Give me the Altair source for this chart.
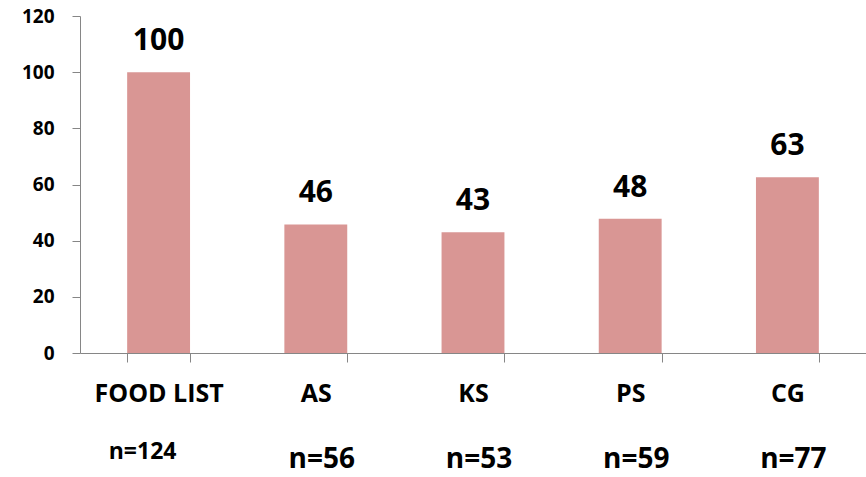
import altair as alt
import pandas as pd

categories = ["FOOD LIST", "AS", "KS", "PS", "CG"]
values = [100, 45.8, 43.0, 47.8, 62.6]
value_labels = ["100", "46", "43", "48", "63"]
n_labels = ["n=124", "n=56", "n=53", "n=59", "n=77"]

df = pd.DataFrame({
    "cat": categories,
    "val": values,
    "lab": value_labels,
    "n": n_labels,
    "idx": list(range(len(categories))),
})

FONT = "Open Sans"
GREY = "#868686"

x_enc = alt.X(
    "cat:N",
    sort=categories,
    scale=alt.Scale(paddingInner=0.6, paddingOuter=0.3),
    axis=alt.Axis(
        title=None,
        labelAngle=0,
        labelFont=FONT,
        labelFontSize=25,
        labelFontWeight="bold",
        labelColor="black",
        labelPadding=19,
        domainColor=GREY,
        tickColor=GREY,
        tickSize=9,
        tickBand="extent",
        bandPosition=0,
        grid=False,
    ),
)
y_enc = alt.Y(
    "val:Q",
    scale=alt.Scale(domain=[0, 120]),
    axis=alt.Axis(
        title=None,
        values=[0, 20, 40, 60, 80, 100, 120],
        labelFont=FONT,
        labelFontSize=19,
        labelFontWeight="bold",
        labelColor="black",
        labelPadding=18,
        domainColor=GREY,
        tickColor=GREY,
        tickSize=8,
        grid=False,
    ),
)

base = alt.Chart(df)

bars = base.mark_bar(color="#d99694").encode(x=x_enc, y=y_enc)

vals = base.mark_text(
    font=FONT, fontSize=30, fontWeight="bold", color="black",
    baseline="alphabetic", dy=-22,
).encode(x=alt.X("cat:N", sort=categories), y=alt.Y("val:Q"), text="lab:N")

n_first = base.transform_filter("datum.idx == 0").mark_text(
    font=FONT, fontSize=23, fontWeight="bold", color="black",
    baseline="middle", dx=-16,
).encode(x=alt.X("cat:N", sort=categories), y=alt.value(436), text="n:N")

n_rest = base.transform_filter("datum.idx > 0").mark_text(
    font=FONT, fontSize=28, fontWeight="bold", color="black",
    baseline="middle", dx=6,
).encode(x=alt.X("cat:N", sort=categories), y=alt.value(444), text="n:N")

chart = alt.layer(bars, vals, n_first, n_rest).properties(
    width=786,
    height=337,
    background="white",
    autosize=alt.AutoSizeParams(type="none"),
    padding={"left": 80, "top": 16, "right": 0, "bottom": 124},
).configure_view(strokeWidth=0).configure_axis(grid=False)

chart.save("out.html", embed_options={"renderer": "svg", "actions": False})
